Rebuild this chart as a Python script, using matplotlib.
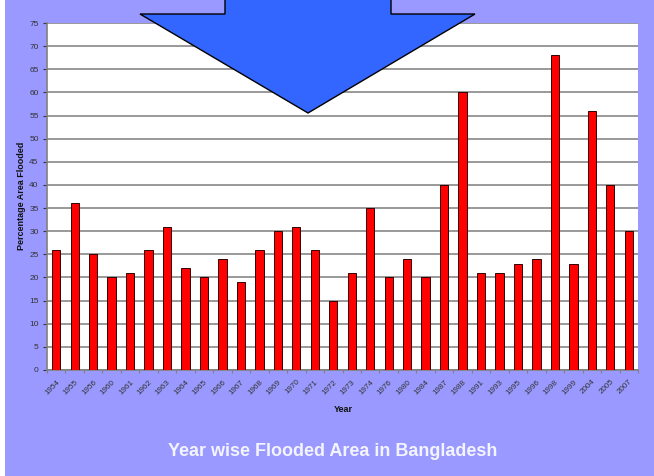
import numpy as np
import matplotlib.pyplot as plt
from matplotlib.patches import Polygon, Rectangle

years = ['1954', '1955', '1956', '1960', '1961', '1962', '1963', '1964',
         '1965', '1966', '1967', '1968', '1969', '1970', '1971', '1972',
         '1973', '1974', '1976', '1980', '1984', '1987', '1988', '1991',
         '1993', '1995', '1996', '1998', '1999', '2004', '2005', '2007']
flooded = [26, 36, 25, 20, 21, 26, 31, 22, 20, 24, 19, 26, 30, 31, 26, 15,
           21, 35, 20, 24, 20, 40, 60, 21, 21, 23, 24, 68, 23, 56, 40, 30]

W, H = 654, 476
bg = '#9999ff'
fig = plt.figure(figsize=(W / 100, H / 100), dpi=100, facecolor=bg)
ax = fig.add_axes([47 / W, 1 - 370 / H, (638 - 47) / W, (370 - 23) / H])

x = np.arange(len(years))
ax.bar(x, flooded, width=0.45, color='#ff0000', edgecolor='#330000',
       linewidth=0.7, zorder=3)

ax.set_xlim(-0.5, len(years) - 0.5)
ax.set_ylim(0, 75)
ax.set_yticks(np.arange(0, 80, 5))
ax.yaxis.grid(True, color='#999999', linewidth=1.4, zorder=0)
ax.set_xticks(x)
ax.set_xticklabels(years, rotation=45, ha='right', rotation_mode='anchor',
                   fontsize=5.8, color='#333333', family='Liberation Sans')
# category ticks sit between the bars
ax.set_xticks(np.arange(len(years) + 1) - 0.5, minor=True)
ax.tick_params(axis='x', which='major', length=0, pad=6)
ax.tick_params(axis='x', which='minor', length=2.5, width=0.8,
               color='#808080')
ax.tick_params(axis='y', labelsize=6, colors='#333333', length=3,
               width=0.8, pad=3)
for lbl in ax.get_yticklabels():
    lbl.set_family('Liberation Sans')
for side in ['top', 'right']:
    ax.spines[side].set_visible(False)
for side in ['left', 'bottom']:
    ax.spines[side].set_color('#808080')
    ax.spines[side].set_linewidth(1.2)

fig.text(22 / W, 1 - 196 / H, 'Percentage Area Flooded', rotation=90,
         ha='center', va='center', fontsize=6.5, fontweight='bold',
         family='Liberation Sans', color='#111111')
fig.text(343 / W, 1 - 409 / H, 'Year', ha='center', va='center',
         fontsize=6.5, fontweight='bold', family='Liberation Sans',
         color='#111111')
fig.text(333 / W, 1 - 452 / H, 'Year wise Flooded Area in Bangladesh',
         ha='center', va='center', fontsize=13, fontweight='bold',
         family='Liberation Sans', color='#f4f4ff')

# thin white strip along the left edge
fig.patches.append(Rectangle((0, 0), 5 / W, 1, transform=fig.transFigure,
                             facecolor='white', edgecolor='none', zorder=5))

# big down arrow over the top of the chart
arrow_px = [(225, -5), (391, -5), (391, 14), (475, 14), (308, 113),
            (140, 14), (225, 14)]
arrow_xy = [(px / W, 1 - py / H) for px, py in arrow_px]
fig.patches.append(Polygon(arrow_xy, closed=True, transform=fig.transFigure,
                           facecolor='#3366ff', edgecolor='black',
                           linewidth=1.0, zorder=10))

fig.savefig('out.png', dpi=100, facecolor=bg)
